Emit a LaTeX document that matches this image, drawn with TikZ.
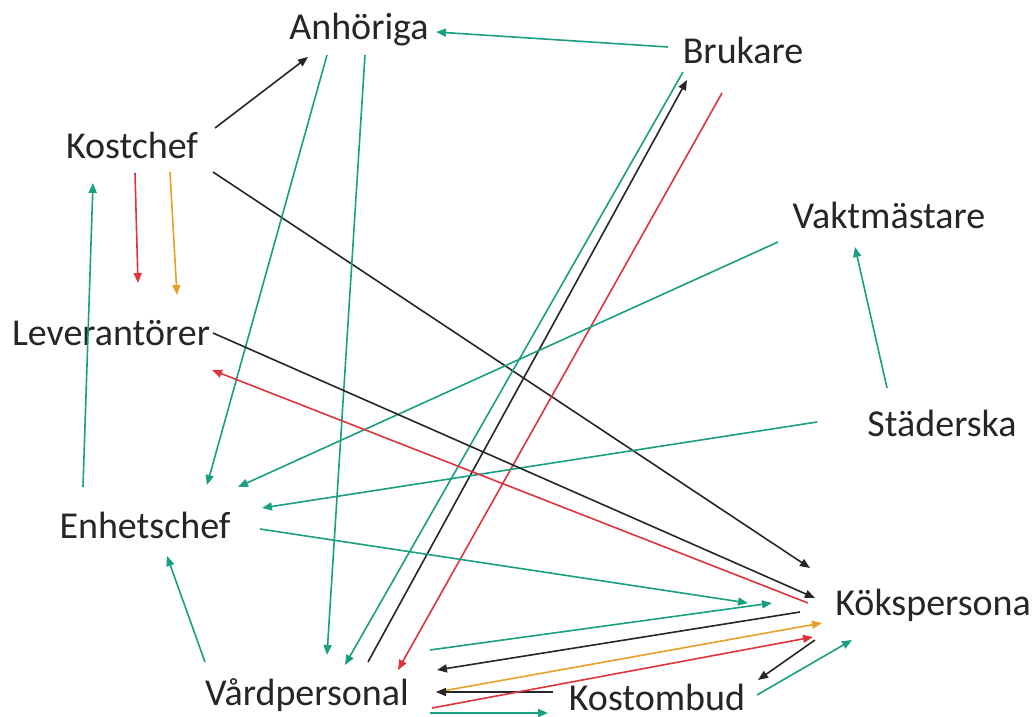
\documentclass[tikz,border=0pt]{standalone}
\usepackage{fontspec}
\setmainfont{Carlito}
\usetikzlibrary{arrows.meta}

\definecolor{teal1}{RGB}{24,160,128}
\definecolor{red1}{RGB}{222,52,60}
\definecolor{orange1}{RGB}{232,160,40}

\begin{document}
\begin{tikzpicture}[x=0.5pt,y=-0.5pt,
    role/.style={inner sep=0pt, font=\fontsize{19}{22}\selectfont, text=black!85},
    grn/.style={teal1, line width=0.8pt, -{Triangle[length=5pt,width=4pt]}},
    rd/.style={red1, line width=0.8pt, -{Triangle[length=5pt,width=4pt]}},
    org/.style={orange1, line width=0.8pt, -{Triangle[length=5pt,width=4pt]}},
    blk/.style={black!85, line width=0.8pt, -{Triangle[length=5pt,width=4pt]}}]
    \useasboundingbox[fill=white] (0,0) rectangle (1035,717);

    % roles
    \node[role] (anh) at (359,30) {Anhöriga};
    \node[role] (bru) at (743,50) {Brukare};
    \node[role] (kch) at (132,145) {Kostchef};
    \node[role] (vak) at (889,215) {Vaktmästare};
    \node[role] (lev) at (111,333) {Leverantörer};
    \node[role] (sta) at (942,423) {Städerska};
    \node[role] (enh) at (145,525) {Enhetschef};
    \node[role,anchor=west] (kok) at (835,605) {Kökspersona};
    \node[role] (vard) at (307,695) {Vårdpersonal};
    \node[role] (kom) at (657,697) {Kostombud};
    \coordinate (kc) at (935,605);

    % top part
    \draw[grn] ([shift={(-75,-3)}]bru.center) -- ([shift={(77,2)}]anh.center);
    \draw[blk] ([shift={(83,-17)}]kch.center) -- ([shift={(-51,27)}]anh.center);
    \draw[blk] ([shift={(81,27)}]kch.center) -- ([shift={(-125,-37)}]kc);
    \draw[rd] ([shift={(3,28)}]kch.center) -- ([shift={(27,-50)}]lev.center);
    \draw[org] ([shift={(38,27)}]kch.center) -- ([shift={(66,-38)}]lev.center);
    \draw[grn] ([shift={(-62,-38)}]enh.center) -- ([shift={(-39,38)}]kch.center);
    \draw[grn] ([shift={(-32,25)}]anh.center) -- ([shift={(62,-40)}]enh.center);
    \draw[grn] ([shift={(6,25)}]anh.center) -- ([shift={(20,-40)}]vard.center);
    \draw[grn] ([shift={(-60,22)}]bru.center) -- ([shift={(38,-30)}]vard.center);
    \draw[blk] ([shift={(61,-33)}]vard.center) -- ([shift={(-56,30)}]bru.center);
    \draw[rd] ([shift={(-21,43)}]bru.center) -- ([shift={(91,-25)}]vard.center);
    \draw[grn] ([shift={(-111,27)}]vak.center) -- ([shift={(93,-38)}]enh.center);
    \draw[grn] ([shift={(-55,-35)}]sta.center) -- ([shift={(-34,32)}]vak.center);
    \draw[grn] ([shift={(-125,-1)}]sta.center) -- ([shift={(117,-17)}]enh.center);

    % into the kitchen
    \draw[blk] ([shift={(102,0)}]lev.center) -- ([shift={(-120,-7)}]kc);
    \draw[rd] ([shift={(-127,-2)}]kc) -- ([shift={(101,37)}]lev.center);
    \draw[grn] ([shift={(115,4)}]enh.center) -- ([shift={(-187,-2)}]kc);
    \draw[grn] ([shift={(123,-45)}]vard.center) -- ([shift={(-163,-2)}]kc);
    \draw[blk] ([shift={(-135,7)}]kc) -- ([shift={(130,-25)}]vard.center);
    \draw[org] ([shift={(130,-3)}]vard.center) -- ([shift={(-113,18)}]kc);
    \draw[blk] ([shift={(-104,-5)}]kom.center) -- ([shift={(129,-3)}]vard.center);
    \draw[rd] ([shift={(125,13)}]vard.center) -- ([shift={(-122,32)}]kc);
    \draw[blk] ([shift={(-120,35)}]kc) -- ([shift={(101,-17)}]kom.center);
    \draw[grn] ([shift={(100,-2)}]kom.center) -- ([shift={(-83,35)}]kc);
    \draw[grn] ([shift={(123,18)}]vard.center) -- ([shift={(-109,16)}]kom.center);
    \draw[grn] ([shift={(-102,-33)}]vard.center) -- ([shift={(22,31)}]enh.center);

\end{tikzpicture}
\end{document}
